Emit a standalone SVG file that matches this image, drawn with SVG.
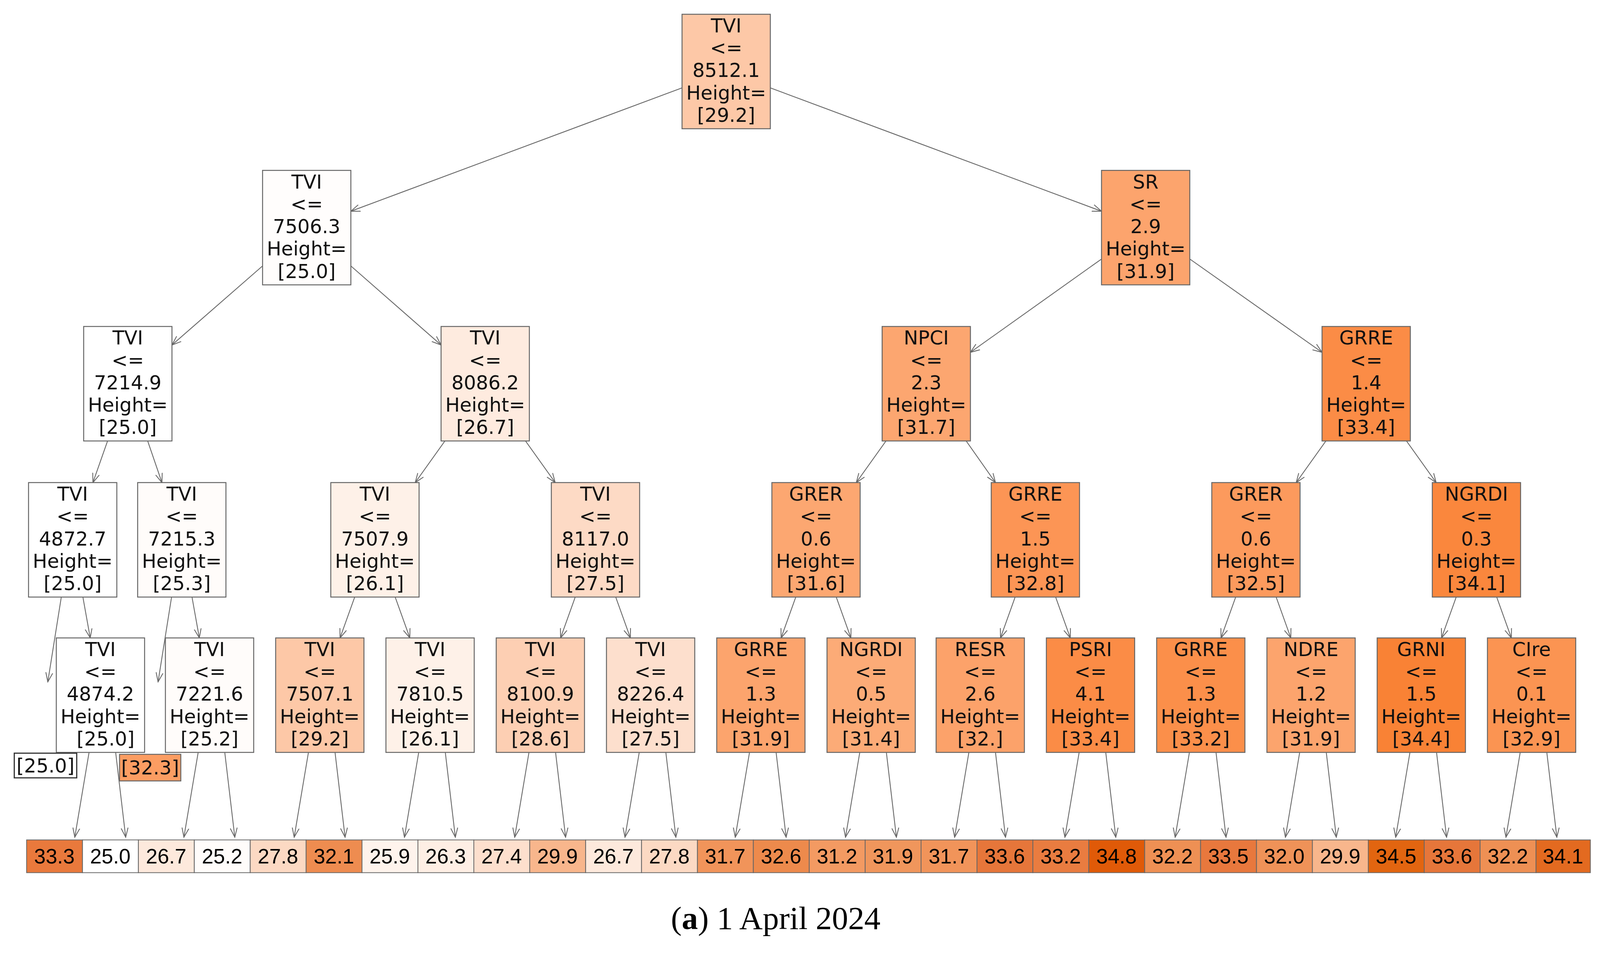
<svg xmlns="http://www.w3.org/2000/svg" width="4152" height="2471" viewBox="0 0 4152 2471">
<style>
.b{stroke:#666;stroke-width:2.5}
.t{font-family:"DejaVu Sans",sans-serif;font-size:50px;fill:#111;text-anchor:middle}
.c{font-family:"Liberation Sans",Arial,sans-serif;font-size:54px;fill:#000;text-anchor:middle}
.e{stroke:#666;stroke-width:2.2;fill:none;marker-end:url(#ah)}
.cap{font-family:"Liberation Serif",serif;font-size:84px;fill:#000;text-anchor:middle}
</style>
<defs>
<marker id="ah" markerWidth="26" markerHeight="20" refX="24" refY="10" orient="auto" markerUnits="userSpaceOnUse"><path d="M0,1 L24,10 L0,19" fill="none" stroke="#666" stroke-width="2.2"/></marker>
</defs>
<rect width="4152" height="2471" fill="#fff"/>
<g transform="scale(0.987)">
<g id="connectors">
<line class="e" x1="1769" y1="228" x2="910" y2="548"/>
<line class="e" x1="1998" y1="228" x2="2857" y2="548"/>
<line class="e" x1="681" y1="690" x2="446" y2="895"/>
<line class="e" x1="910" y1="690" x2="1144" y2="895"/>
<line class="e" x1="2857" y1="672" x2="2517" y2="914"/>
<line class="e" x1="3086" y1="672" x2="3429" y2="914"/>
<line class="e" x1="279" y1="1144" x2="241" y2="1252"/>
<line class="e" x1="383" y1="1144" x2="420" y2="1252"/>
<line class="e" x1="1154" y1="1144" x2="1077" y2="1252"/>
<line class="e" x1="1363" y1="1144" x2="1440" y2="1252"/>
<line class="e" x1="2298" y1="1144" x2="2221" y2="1252"/>
<line class="e" x1="2506" y1="1144" x2="2582" y2="1252"/>
<line class="e" x1="3439" y1="1144" x2="3362" y2="1252"/>
<line class="e" x1="3648" y1="1144" x2="3725" y2="1252"/>
<line class="e" x1="159" y1="1549" x2="124" y2="1769"/>
<line class="e" x1="215" y1="1549" x2="234" y2="1655"/>
<line class="e" x1="445" y1="1549" x2="410" y2="1769"/>
<line class="e" x1="498" y1="1549" x2="517" y2="1655"/>
<line class="e" x1="920" y1="1549" x2="882" y2="1655"/>
<line class="e" x1="1025" y1="1549" x2="1063" y2="1655"/>
<line class="e" x1="1492" y1="1549" x2="1454" y2="1655"/>
<line class="e" x1="1597" y1="1549" x2="1635" y2="1655"/>
<line class="e" x1="2064" y1="1549" x2="2026" y2="1655"/>
<line class="e" x1="2169" y1="1549" x2="2207" y2="1655"/>
<line class="e" x1="2633" y1="1549" x2="2595" y2="1655"/>
<line class="e" x1="2738" y1="1549" x2="2776" y2="1655"/>
<line class="e" x1="3205" y1="1549" x2="3167" y2="1655"/>
<line class="e" x1="3310" y1="1549" x2="3348" y2="1655"/>
<line class="e" x1="3777" y1="1549" x2="3739" y2="1655"/>
<line class="e" x1="3882" y1="1549" x2="3920" y2="1655"/>
<line class="e" x1="231" y1="1952" x2="194" y2="2172"/><line class="e" x1="300" y1="1952" x2="326" y2="2172"/>
<line class="e" x1="514" y1="1952" x2="477" y2="2172"/><line class="e" x1="583" y1="1952" x2="609" y2="2172"/>
<line class="e" x1="800" y1="1952" x2="763" y2="2172"/><line class="e" x1="869" y1="1952" x2="895" y2="2172"/>
<line class="e" x1="1086" y1="1952" x2="1049" y2="2172"/><line class="e" x1="1155" y1="1952" x2="1181" y2="2172"/>
<line class="e" x1="1372" y1="1952" x2="1335" y2="2172"/><line class="e" x1="1441" y1="1952" x2="1467" y2="2172"/>
<line class="e" x1="1658" y1="1952" x2="1621" y2="2172"/><line class="e" x1="1727" y1="1952" x2="1753" y2="2172"/>
<line class="e" x1="1944" y1="1952" x2="1907" y2="2172"/><line class="e" x1="2013" y1="1952" x2="2039" y2="2172"/>
<line class="e" x1="2230" y1="1952" x2="2193" y2="2172"/><line class="e" x1="2299" y1="1952" x2="2325" y2="2172"/>
<line class="e" x1="2513" y1="1952" x2="2476" y2="2172"/><line class="e" x1="2582" y1="1952" x2="2608" y2="2172"/>
<line class="e" x1="2799" y1="1952" x2="2762" y2="2172"/><line class="e" x1="2868" y1="1952" x2="2894" y2="2172"/>
<line class="e" x1="3085" y1="1952" x2="3048" y2="2172"/><line class="e" x1="3154" y1="1952" x2="3180" y2="2172"/>
<line class="e" x1="3371" y1="1952" x2="3334" y2="2172"/><line class="e" x1="3440" y1="1952" x2="3466" y2="2172"/>
<line class="e" x1="3657" y1="1952" x2="3620" y2="2172"/><line class="e" x1="3726" y1="1952" x2="3752" y2="2172"/>
<line class="e" x1="3943" y1="1952" x2="3906" y2="2172"/><line class="e" x1="4012" y1="1952" x2="4038" y2="2172"/>
</g>
<g id="n0"><rect class="b" x="1769" y="37" width="229" height="297" fill="#fdc8a7"/><text class="t"><tspan x="1883.5" y="84">TVI</tspan><tspan x="1883.5" y="142">&lt;=</tspan><tspan x="1883.5" y="200">8512.1</tspan><tspan x="1883.5" y="258">Height=</tspan><tspan x="1883.5" y="316">[29.2]</tspan></text></g>
<g id="n1"><rect class="b" x="681" y="442" width="229" height="297" fill="#fffdfc"/><text class="t"><tspan x="795.5" y="489">TVI</tspan><tspan x="795.5" y="547">&lt;=</tspan><tspan x="795.5" y="605">7506.3</tspan><tspan x="795.5" y="663">Height=</tspan><tspan x="795.5" y="721">[25.0]</tspan></text></g>
<g id="n2"><rect class="b" x="2857" y="442" width="229" height="297" fill="#fca46d"/><text class="t"><tspan x="2971.5" y="489">SR</tspan><tspan x="2971.5" y="547">&lt;=</tspan><tspan x="2971.5" y="605">2.9</tspan><tspan x="2971.5" y="663">Height=</tspan><tspan x="2971.5" y="721">[31.9]</tspan></text></g>
<g id="n3"><rect class="b" x="217" y="847" width="229" height="297" fill="#ffffff"/><text class="t"><tspan x="331.5" y="894">TVI</tspan><tspan x="331.5" y="952">&lt;=</tspan><tspan x="331.5" y="1010">7214.9</tspan><tspan x="331.5" y="1068">Height=</tspan><tspan x="331.5" y="1126">[25.0]</tspan></text></g>
<g id="n4"><rect class="b" x="1144" y="847" width="229" height="297" fill="#feebdf"/><text class="t"><tspan x="1258.5" y="894">TVI</tspan><tspan x="1258.5" y="952">&lt;=</tspan><tspan x="1258.5" y="1010">8086.2</tspan><tspan x="1258.5" y="1068">Height=</tspan><tspan x="1258.5" y="1126">[26.7]</tspan></text></g>
<g id="n5"><rect class="b" x="2288" y="847" width="229" height="297" fill="#fca670"/><text class="t"><tspan x="2402.5" y="894">NPCI</tspan><tspan x="2402.5" y="952">&lt;=</tspan><tspan x="2402.5" y="1010">2.3</tspan><tspan x="2402.5" y="1068">Height=</tspan><tspan x="2402.5" y="1126">[31.7]</tspan></text></g>
<g id="n6"><rect class="b" x="3429" y="847" width="229" height="297" fill="#fb8c46"/><text class="t"><tspan x="3543.5" y="894">GRRE</tspan><tspan x="3543.5" y="952">&lt;=</tspan><tspan x="3543.5" y="1010">1.4</tspan><tspan x="3543.5" y="1068">Height=</tspan><tspan x="3543.5" y="1126">[33.4]</tspan></text></g>
<g id="n7"><rect class="b" x="74" y="1252" width="229" height="297" fill="#ffffff"/><text class="t"><tspan x="188.5" y="1299">TVI</tspan><tspan x="188.5" y="1357">&lt;=</tspan><tspan x="188.5" y="1415">4872.7</tspan><tspan x="188.5" y="1473">Height=</tspan><tspan x="188.5" y="1531">[25.0]</tspan></text></g>
<g id="n8"><rect class="b" x="357" y="1252" width="229" height="297" fill="#fffcfa"/><text class="t"><tspan x="471.5" y="1299">TVI</tspan><tspan x="471.5" y="1357">&lt;=</tspan><tspan x="471.5" y="1415">7215.3</tspan><tspan x="471.5" y="1473">Height=</tspan><tspan x="471.5" y="1531">[25.3]</tspan></text></g>
<g id="n9"><rect class="b" x="858" y="1252" width="229" height="297" fill="#fef1e8"/><text class="t"><tspan x="972.5" y="1299">TVI</tspan><tspan x="972.5" y="1357">&lt;=</tspan><tspan x="972.5" y="1415">7507.9</tspan><tspan x="972.5" y="1473">Height=</tspan><tspan x="972.5" y="1531">[26.1]</tspan></text></g>
<g id="n10"><rect class="b" x="1430" y="1252" width="229" height="297" fill="#fddac5"/><text class="t"><tspan x="1544.5" y="1299">TVI</tspan><tspan x="1544.5" y="1357">&lt;=</tspan><tspan x="1544.5" y="1415">8117.0</tspan><tspan x="1544.5" y="1473">Height=</tspan><tspan x="1544.5" y="1531">[27.5]</tspan></text></g>
<g id="n11"><rect class="b" x="2002" y="1252" width="229" height="297" fill="#fca771"/><text class="t"><tspan x="2116.5" y="1299">GRER</tspan><tspan x="2116.5" y="1357">&lt;=</tspan><tspan x="2116.5" y="1415">0.6</tspan><tspan x="2116.5" y="1473">Height=</tspan><tspan x="2116.5" y="1531">[31.6]</tspan></text></g>
<g id="n12"><rect class="b" x="2571" y="1252" width="229" height="297" fill="#fc9555"/><text class="t"><tspan x="2685.5" y="1299">GRRE</tspan><tspan x="2685.5" y="1357">&lt;=</tspan><tspan x="2685.5" y="1415">1.5</tspan><tspan x="2685.5" y="1473">Height=</tspan><tspan x="2685.5" y="1531">[32.8]</tspan></text></g>
<g id="n13"><rect class="b" x="3143" y="1252" width="229" height="297" fill="#fc9a5d"/><text class="t"><tspan x="3257.5" y="1299">GRER</tspan><tspan x="3257.5" y="1357">&lt;=</tspan><tspan x="3257.5" y="1415">0.6</tspan><tspan x="3257.5" y="1473">Height=</tspan><tspan x="3257.5" y="1531">[32.5]</tspan></text></g>
<g id="n14"><rect class="b" x="3715" y="1252" width="229" height="297" fill="#fa873d"/><text class="t"><tspan x="3829.5" y="1299">NGRDI</tspan><tspan x="3829.5" y="1357">&lt;=</tspan><tspan x="3829.5" y="1415">0.3</tspan><tspan x="3829.5" y="1473">Height=</tspan><tspan x="3829.5" y="1531">[34.1]</tspan></text></g>
<g id="n15"><rect class="b" x="146" y="1655" width="229" height="297" fill="#ffffff"/><text class="t"><tspan x="260.5" y="1702">TVI</tspan><tspan x="260.5" y="1760">&lt;=</tspan><tspan x="260.5" y="1818">4874.2</tspan><tspan x="260.5" y="1876">Height=</tspan><tspan x="274" y="1934">[25.0]</tspan></text></g>
<g id="n16"><rect class="b" x="429" y="1655" width="229" height="297" fill="#fffcfa"/><text class="t"><tspan x="543.5" y="1702">TVI</tspan><tspan x="543.5" y="1760">&lt;=</tspan><tspan x="543.5" y="1818">7221.6</tspan><tspan x="543.5" y="1876">Height=</tspan><tspan x="543.5" y="1934">[25.2]</tspan></text></g>
<g id="n17"><rect class="b" x="715" y="1655" width="229" height="297" fill="#fdc8a7"/><text class="t"><tspan x="829.5" y="1702">TVI</tspan><tspan x="829.5" y="1760">&lt;=</tspan><tspan x="829.5" y="1818">7507.1</tspan><tspan x="829.5" y="1876">Height=</tspan><tspan x="829.5" y="1934">[29.2]</tspan></text></g>
<g id="n18"><rect class="b" x="1001" y="1655" width="229" height="297" fill="#fef1e8"/><text class="t"><tspan x="1115.5" y="1702">TVI</tspan><tspan x="1115.5" y="1760">&lt;=</tspan><tspan x="1115.5" y="1818">7810.5</tspan><tspan x="1115.5" y="1876">Height=</tspan><tspan x="1115.5" y="1934">[26.1]</tspan></text></g>
<g id="n19"><rect class="b" x="1287" y="1655" width="229" height="297" fill="#fdcfb3"/><text class="t"><tspan x="1401.5" y="1702">TVI</tspan><tspan x="1401.5" y="1760">&lt;=</tspan><tspan x="1401.5" y="1818">8100.9</tspan><tspan x="1401.5" y="1876">Height=</tspan><tspan x="1401.5" y="1934">[28.6]</tspan></text></g>
<g id="n20"><rect class="b" x="1573" y="1655" width="229" height="297" fill="#fddfcd"/><text class="t"><tspan x="1687.5" y="1702">TVI</tspan><tspan x="1687.5" y="1760">&lt;=</tspan><tspan x="1687.5" y="1818">8226.4</tspan><tspan x="1687.5" y="1876">Height=</tspan><tspan x="1687.5" y="1934">[27.5]</tspan></text></g>
<g id="n21"><rect class="b" x="1859" y="1655" width="229" height="297" fill="#fca46d"/><text class="t"><tspan x="1973.5" y="1702">GRRE</tspan><tspan x="1973.5" y="1760">&lt;=</tspan><tspan x="1973.5" y="1818">1.3</tspan><tspan x="1973.5" y="1876">Height=</tspan><tspan x="1973.5" y="1934">[31.9]</tspan></text></g>
<g id="n22"><rect class="b" x="2145" y="1655" width="229" height="297" fill="#fcab77"/><text class="t"><tspan x="2259.5" y="1702">NGRDI</tspan><tspan x="2259.5" y="1760">&lt;=</tspan><tspan x="2259.5" y="1818">0.5</tspan><tspan x="2259.5" y="1876">Height=</tspan><tspan x="2259.5" y="1934">[31.4]</tspan></text></g>
<g id="n23"><rect class="b" x="2428" y="1655" width="229" height="297" fill="#fca26a"/><text class="t"><tspan x="2542.5" y="1702">RESR</tspan><tspan x="2542.5" y="1760">&lt;=</tspan><tspan x="2542.5" y="1818">2.6</tspan><tspan x="2542.5" y="1876">Height=</tspan><tspan x="2542.5" y="1934">[32.]</tspan></text></g>
<g id="n24"><rect class="b" x="2714" y="1655" width="229" height="297" fill="#fb8c46"/><text class="t"><tspan x="2828.5" y="1702">PSRI</tspan><tspan x="2828.5" y="1760">&lt;=</tspan><tspan x="2828.5" y="1818">4.1</tspan><tspan x="2828.5" y="1876">Height=</tspan><tspan x="2828.5" y="1934">[33.4]</tspan></text></g>
<g id="n25"><rect class="b" x="3000" y="1655" width="229" height="297" fill="#fb8f4a"/><text class="t"><tspan x="3114.5" y="1702">GRRE</tspan><tspan x="3114.5" y="1760">&lt;=</tspan><tspan x="3114.5" y="1818">1.3</tspan><tspan x="3114.5" y="1876">Height=</tspan><tspan x="3114.5" y="1934">[33.2]</tspan></text></g>
<g id="n26"><rect class="b" x="3286" y="1655" width="229" height="297" fill="#fca46d"/><text class="t"><tspan x="3400.5" y="1702">NDRE</tspan><tspan x="3400.5" y="1760">&lt;=</tspan><tspan x="3400.5" y="1818">1.2</tspan><tspan x="3400.5" y="1876">Height=</tspan><tspan x="3400.5" y="1934">[31.9]</tspan></text></g>
<g id="n27"><rect class="b" x="3572" y="1655" width="229" height="297" fill="#f98235"/><text class="t"><tspan x="3686.5" y="1702">GRNI</tspan><tspan x="3686.5" y="1760">&lt;=</tspan><tspan x="3686.5" y="1818">1.5</tspan><tspan x="3686.5" y="1876">Height=</tspan><tspan x="3686.5" y="1934">[34.4]</tspan></text></g>
<g id="n28"><rect class="b" x="3858" y="1655" width="229" height="297" fill="#fb9452"/><text class="t"><tspan x="3972.5" y="1702">CIre</tspan><tspan x="3972.5" y="1760">&lt;=</tspan><tspan x="3972.5" y="1818">0.1</tspan><tspan x="3972.5" y="1876">Height=</tspan><tspan x="3972.5" y="1934">[32.9]</tspan></text></g>
<g id="leafA"><rect x="37" y="1954" width="162" height="64" fill="#fff" stroke="#333" stroke-width="3"/><text class="t" x="118" y="2004">[25.0]</text></g>
<g id="leafB"><rect x="310" y="1957" width="159" height="69" fill="#fc9d62" stroke="#666" stroke-width="2.5"/><text class="t" x="389.5" y="2009">[32.3]</text></g>
<g id="leaves" stroke="#666" stroke-width="2">
<rect x="69" y="2179" width="145" height="85" fill="#e9793c"/>
<rect x="214" y="2179" width="145" height="85" fill="#ffffff"/>
<rect x="359" y="2179" width="145" height="85" fill="#fde9dc"/>
<rect x="504" y="2179" width="145" height="85" fill="#fffcfa"/>
<rect x="649" y="2179" width="145" height="85" fill="#fcd9c3"/>
<rect x="794" y="2179" width="145" height="85" fill="#ee8c50"/>
<rect x="939" y="2179" width="145" height="85" fill="#fef3ec"/>
<rect x="1084" y="2179" width="145" height="85" fill="#feeee4"/>
<rect x="1229" y="2179" width="145" height="85" fill="#fddfcd"/>
<rect x="1374" y="2179" width="145" height="85" fill="#f8b68c"/>
<rect x="1519" y="2179" width="145" height="85" fill="#fde9dc"/>
<rect x="1664" y="2179" width="145" height="85" fill="#fcd9c3"/>
<rect x="1809" y="2179" width="145" height="85" fill="#f1945a"/>
<rect x="1954" y="2179" width="145" height="85" fill="#ed8a4c"/>
<rect x="2099" y="2179" width="145" height="85" fill="#f39a62"/>
<rect x="2244" y="2179" width="145" height="85" fill="#f0965c"/>
<rect x="2389" y="2179" width="145" height="85" fill="#f1945a"/>
<rect x="2534" y="2179" width="145" height="85" fill="#e6763a"/>
<rect x="2679" y="2179" width="145" height="85" fill="#e97c40"/>
<rect x="2824" y="2179" width="145" height="85" fill="#e05a08"/>
<rect x="2969" y="2179" width="145" height="85" fill="#ee9054"/>
<rect x="3114" y="2179" width="145" height="85" fill="#e8783d"/>
<rect x="3259" y="2179" width="145" height="85" fill="#ef9258"/>
<rect x="3404" y="2179" width="145" height="85" fill="#f8b68c"/>
<rect x="3549" y="2179" width="145" height="85" fill="#e26510"/>
<rect x="3694" y="2179" width="145" height="85" fill="#e6763a"/>
<rect x="3839" y="2179" width="145" height="85" fill="#ee9054"/>
<rect x="3984" y="2179" width="141" height="85" fill="#e36a20"/>
</g>
<g id="leafvals" class="c">
<text x="141" y="2240">33.3</text><text x="286" y="2240">25.0</text><text x="431" y="2240">26.7</text><text x="576" y="2240">25.2</text><text x="721" y="2240">27.8</text><text x="866" y="2240">32.1</text><text x="1011" y="2240">25.9</text><text x="1156" y="2240">26.3</text><text x="1301" y="2240">27.4</text><text x="1446" y="2240">29.9</text><text x="1591" y="2240">26.7</text><text x="1736" y="2240">27.8</text><text x="1881" y="2240">31.7</text><text x="2026" y="2240">32.6</text><text x="2171" y="2240">31.2</text><text x="2316" y="2240">31.9</text><text x="2461" y="2240">31.7</text><text x="2606" y="2240">33.6</text><text x="2751" y="2240">33.2</text><text x="2896" y="2240">34.8</text><text x="3041" y="2240">32.2</text><text x="3186" y="2240">33.5</text><text x="3331" y="2240">32.0</text><text x="3476" y="2240">29.9</text><text x="3621" y="2240">34.5</text><text x="3766" y="2240">33.6</text><text x="3911" y="2240">32.2</text><text x="4054" y="2240">34.1</text>
</g>
<text class="cap" x="2012" y="2410">(<tspan font-weight="bold">a</tspan>) 1 April 2024</text>
</g>
</svg>
